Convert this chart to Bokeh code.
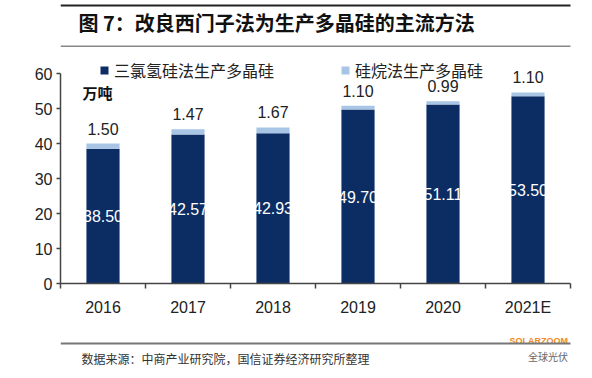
import numpy as np
from bokeh.plotting import figure
from bokeh.models import (ColumnDataSource, FixedTicker, Label, BoxAnnotation,
                          Legend, LegendItem)
from bokeh.layouts import column
from bokeh.embed import file_html
from bokeh.resources import INLINE
from bokeh.core.properties import value

# ---- data ----
years = ["2016", "2017", "2018", "2019", "2020", "2021E"]
tcs_vals = [38.50, 42.57, 42.93, 49.70, 51.11, 53.50]      # 三氯氢硅法
silane_vals = [1.50, 1.47, 1.67, 1.10, 0.99, 1.10]          # 硅烷法
y_ticks = [0, 10, 20, 30, 40, 50, 60]
series_names = ["三氯氢硅法生产多晶硅", "硅烷法生产多晶硅"]
title_text = "图 7：改良西门子法为生产多晶硅的主流方法"
unit_text = "万吨"
source_text = "数据来源：中商产业研究院，国信证券经济研究所整理"
watermarks = ["SOLARZOOM", "全球光伏"]

DARK = "#0c2d64"
LIGHT = "#a9c5e6"
NUM_FONT = "Liberation Sans"
CJK_FONT = "Noto Sans CJK SC"
W = 592
H_HEAD, H_MAIN, H_FOOT = 50, 280, 48


def blank(h):
    # ranges equal to the pixel size, so that 1 unit = 1 pixel
    f = figure(width=W, height=h, x_range=(0, W), y_range=(0, h),
               x_axis_type=None, y_axis_type=None, output_backend="svg",
               toolbar_location=None, min_border=0)
    f.outline_line_color = None
    f.background_fill_color = "white"
    f.border_fill_color = "white"
    return f


def rule(f, top, bottom, color):
    f.add_layout(BoxAnnotation(left=0, right=W, top=top, bottom=bottom,
                               left_units="screen", right_units="screen",
                               top_units="screen", bottom_units="screen",
                               fill_color=color, fill_alpha=1, line_color=None))


# ---- header ----
head = blank(H_HEAD)
rule(head, 46, 44, "#222222")
rule(head, 5, 3.5, "#888888")
head.add_layout(Label(x=18, y=28, x_units="screen", y_units="screen",
                      text=title_text, text_font=CJK_FONT, text_font_size="20px",
                      text_font_style="bold", text_color="#111111",
                      text_baseline="middle"))

# ---- main chart ----
xs = [i + 0.5 for i in range(len(years))]
totals = [a + b for a, b in zip(tcs_vals, silane_vals)]
src = ColumnDataSource(dict(
    x=xs,
    tcs=tcs_vals,
    total=totals,
    mid=[v / 2 for v in tcs_vals],
    lab_in=[f"{v:.2f}" for v in tcs_vals],
    lab_top=[f"{v:.2f}" for v in silane_vals],
))

PX_PER_UNIT = 3.5
top_room = 23  # px of frame above the value 60
p = figure(width=W, height=H_MAIN, x_range=(0, len(years)),
           y_range=(0, y_ticks[-1] + top_room / PX_PER_UNIT),
           output_backend="svg", toolbar_location=None,
           min_border_left=60, min_border_right=22,
           min_border_top=0, min_border_bottom=47)
p.outline_line_color = None
p.xgrid.grid_line_color = None
p.ygrid.grid_line_color = None
p.background_fill_color = "white"
p.border_fill_color = "white"

p.vbar(x="x", width=0.39, bottom=0, top="tcs", source=src,
       fill_color=DARK, line_color=None)
p.vbar(x="x", width=0.39, bottom="tcs", top="total", source=src,
       fill_color=LIGHT, line_color=None)

p.text(x="x", y="mid", text="lab_in", source=src, text_color="white",
       text_font=value(NUM_FONT), text_font_size="16px",
       text_align="center", text_baseline="middle")
p.text(x="x", y="total", text="lab_top", source=src, text_color="#222222",
       text_font=value(NUM_FONT), text_font_size="16px",
       text_align="center", text_baseline="middle", y_offset=-15)

xa = p.xaxis[0]
xa.ticker = FixedTicker(ticks=xs, minor_ticks=list(range(len(years) + 1)))
xa.major_label_overrides = {x: y for x, y in zip(xs, years)}
xa.major_tick_line_color = None
xa.major_tick_out = 0
xa.major_tick_in = 0
xa.minor_tick_line_color = "#444444"
xa.minor_tick_out = 5
xa.minor_tick_in = 0
xa.minor_tick_line_width = 1.5
xa.axis_line_color = "#444444"
xa.axis_line_width = 1.5
xa.major_label_text_font = NUM_FONT
xa.major_label_text_font_size = "16px"
xa.major_label_text_color = "#222222"
xa.major_label_standoff = 10

ya = p.yaxis[0]
ya.ticker = FixedTicker(ticks=y_ticks)
ya.bounds = (y_ticks[0], y_ticks[-1])
ya.minor_tick_line_color = None
ya.major_tick_out = 4
ya.major_tick_in = 0
ya.major_tick_line_color = "#444444"
ya.major_tick_line_width = 1.5
ya.axis_line_color = "#444444"
ya.axis_line_width = 1.5
ya.major_label_text_font = NUM_FONT
ya.major_label_text_font_size = "16px"
ya.major_label_text_color = "#222222"
ya.major_label_standoff = 4

# legend proxies (no visible points)
nan1 = np.array([np.nan])
m1 = p.scatter(x=nan1, y=nan1, marker="square", fill_color=DARK, line_color=None)
m2 = p.scatter(x=nan1, y=nan1, marker="square", fill_color=LIGHT, line_color=None)
legend = Legend(items=[LegendItem(label=series_names[0], renderers=[m1]),
                       LegendItem(label=series_names[1], renderers=[m2])],
                orientation="horizontal", location=(34, 201), spacing=61,
                glyph_width=20, glyph_height=20, label_standoff=0,
                padding=0, margin=0, border_line_color=None,
                background_fill_alpha=0, label_text_font=CJK_FONT,
                label_text_font_size="16px", label_text_color="#222222")
p.add_layout(legend)
p.add_layout(Label(x=22, y=191, x_units="screen", y_units="screen",
                   text=unit_text, text_font=CJK_FONT, text_font_size="15px",
                   text_font_style="bold", text_color="#111111",
                   text_baseline="middle"))

# ---- footer ----
foot = blank(H_FOOT)
rule(foot, 36, 34, "#777777")
foot.add_layout(Label(x=21, y=20, x_units="screen", y_units="screen",
                      text=source_text, text_font=CJK_FONT, text_font_size="12px",
                      text_color="#333333", text_baseline="middle"))
foot.text(x=[W - 3], y=[38], text=[watermarks[0]],
          text_font=value(NUM_FONT), text_font_size="9px",
          text_font_style="bold", text_color="#f08a24",
          text_align="right", text_baseline="middle")
foot.text(x=[W - 3], y=[22], text=[watermarks[1]],
          text_font=value(CJK_FONT), text_font_size="10px",
          text_color="#666666", text_align="right", text_baseline="middle")

layout = column(head, p, foot, spacing=0)
open("out.html", "w").write(file_html(layout, INLINE))
